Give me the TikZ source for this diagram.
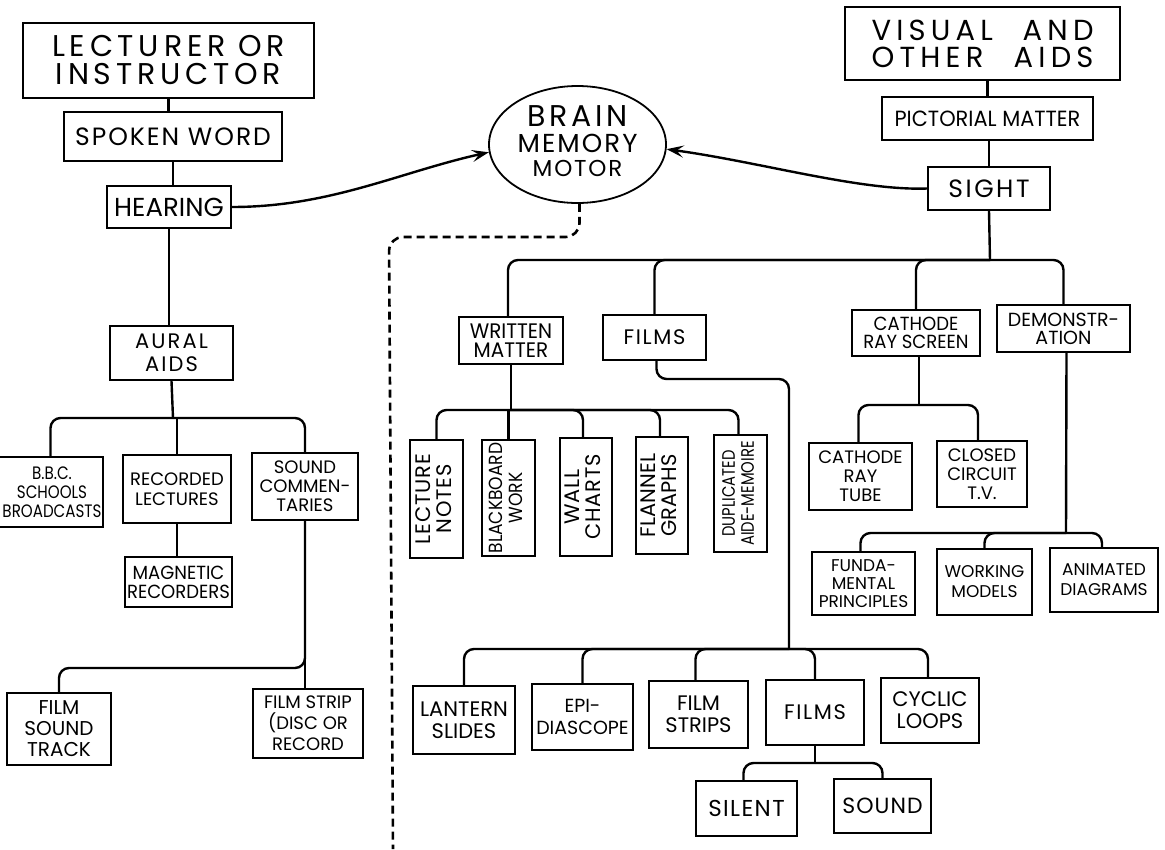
\documentclass[tikz,border=0pt]{standalone}
\usepackage{fontspec}
\setmainfont{Poppins}
\usepackage{graphicx}
\usetikzlibrary{shapes.geometric,arrows.meta}
\newcommand\fsz[2]{\fontsize{#1pt}{#2pt}\selectfont}
\newcommand\lsp[1]{\addfontfeature{LetterSpace=#1}}
\newcommand\cond[1]{\addfontfeature{FakeStretch=#1}}
\newcommand\vlines[1]{\rotatebox{90}{\begin{tabular}{@{}c@{}}#1\end{tabular}}}
\begin{document}
\begin{tikzpicture}[x=1pt,y=-1pt,
  box/.style={draw, line width=1.8pt, rectangle, inner sep=0pt, align=center},
  conn/.style={line width=2.4pt},
  rc/.style={rounded corners=10pt},
  arr/.style={line width=2.4pt, -{Stealth[length=17pt,width=12pt,inset=7pt]}},
  dashline/.style={line width=2.6pt, dash pattern=on 8pt off 5pt}
]
\useasboundingbox (0,0) rectangle (1165,849);

% left column
\node[box, minimum width=291pt, minimum height=75pt, font=\fsz{30}{28}\lsp{16}] (lect) at (168.5,60.5) {LECTURER OR\\INSTRUCTOR};
\node[box, minimum width=218pt, minimum height=49pt, font=\fsz{25}{26}\lsp{8}] (spoken) at (173,136.5) {SPOKEN WORD};
\node[box, minimum width=124pt, minimum height=42pt, font=\fsz{26}{26}] (hearing) at (169,207) {HEARING};
\node[box, minimum width=123pt, minimum height=54pt, font=\fsz{21}{23}\lsp{10}] (aural) at (171.5,353) {AURAL\\AIDS};
\node[box, minimum width=113pt, minimum height=70pt] (bbc) at (46.5,492) {};
\node[inner sep=0pt, align=center, font=\fsz{18}{19}\cond{0.84}] (bbct) at (52,492) {B.B.C.\\SCHOOLS\\BROADCASTS};
\node[box, minimum width=108pt, minimum height=68pt, font=\fsz{18}{20}] (rec) at (177,489) {RECORDED\\LECTURES};
\node[box, minimum width=107pt, minimum height=50pt, font=\fsz{19}{19}\cond{0.95}] (mag) at (178.5,582) {MAGNETIC\\RECORDERS};
\node[box, minimum width=106pt, minimum height=67pt, font=\fsz{18}{19}] (sound) at (305,486.5) {SOUND\\COMMEN-\\TARIES};
\node[box, minimum width=104pt, minimum height=72pt, font=\fsz{20}{21}] (fst) at (59,729) {FILM\\SOUND\\TRACK};
\node[box, minimum width=110pt, minimum height=69pt, font=\fsz{18}{21}] (fsr) at (308,723.5) {FILM STRIP\\(DISC OR\\RECORD};

% brain
\node[draw, ellipse, line width=1.8pt, minimum width=177pt, minimum height=117pt, inner sep=0pt] (brain) at (577.5,144.5)
  {\fsz{24}{24}\begin{tabular}{@{}c@{}}{\fsz{30}{30}\lsp{12}BRAIN}\\{\fsz{26}{26}\lsp{8}MEMORY}\\{\fsz{23}{23}\lsp{8}MOTOR}\end{tabular}};

% right top
\node[box, minimum width=275pt, minimum height=73pt, font=\fsz{29}{27}\lsp{18}] (vis) at (982.5,43.5)
  {\hbox to 222pt{VISUAL\hfill AND}\\\hbox to 222pt{OTHER\hfill AIDS}};
\node[box, minimum width=211pt, minimum height=43pt, font=\fsz{22}{22}\cond{0.95}] (pict) at (987.5,118.5) {PICTORIAL MATTER};
\node[box, minimum width=122pt, minimum height=43pt, font=\fsz{25}{26}\lsp{10}] (sight) at (989,188.5) {SIGHT};

% second level
\node[box, minimum width=104pt, minimum height=47pt, font=\fsz{21}{19}\cond{0.95}] (wm) at (511,340.5) {WRITTEN\\MATTER};
\node[box, minimum width=103pt, minimum height=45pt, font=\fsz{21}{22}\lsp{8}] (films1) at (654.5,337.5) {FILMS};
\node[box, minimum width=128pt, minimum height=46pt, font=\fsz{19}{18}\cond{0.95}] (crs) at (916,333) {CATHODE\\RAY SCREEN};
\node[box, minimum width=133pt, minimum height=47pt, font=\fsz{19}{18}] (demo) at (1063.5,328.5) {DEMONSTR-\\ATION};

% vertical boxes
\node[box, minimum width=53pt, minimum height=118pt, font=\fsz{21}{21}\lsp{4}] (ln) at (436.5,499) {\vlines{LECTURE\\NOTES}};
\node[box, minimum width=53pt, minimum height=116pt, font=\fsz{19}{20}\cond{0.9}] (bw) at (508.5,498) {\vlines{BLACKBOARD\\WORK}};
\node[box, minimum width=52pt, minimum height=118pt, font=\fsz{21}{21}\lsp{4}] (wc) at (586,497) {\vlines{WALL\\CHARTS}};
\node[box, minimum width=52pt, minimum height=117pt, font=\fsz{21}{21}] (fg) at (662,495.5) {\vlines{FLANNEL\\GRAPHS}};
\node[box, minimum width=53pt, minimum height=117pt, font=\fsz{18}{19}\cond{0.82}] (dup) at (740.5,493.5) {\vlines{DUPLICATED\\AIDE-MEMOIRE}};

% cathode / demonstration
\node[box, minimum width=103pt, minimum height=67pt, font=\fsz{18}{19}] (ct) at (860.5,476.5) {CATHODE\\RAY\\TUBE};
\node[box, minimum width=90pt, minimum height=66pt, font=\fsz{18}{19}] (cc) at (982,474) {CLOSED\\CIRCUIT\\T.V.};
\node[box, minimum width=103pt, minimum height=63pt, font=\fsz{17}{18}] (fp) at (863.5,583.5) {FUNDA-\\MENTAL\\PRINCIPLES};
\node[box, minimum width=95pt, minimum height=66pt, font=\fsz{17}{20}] (wmod) at (984.5,582) {WORKING\\MODELS};
\node[box, minimum width=108pt, minimum height=64pt, font=\fsz{17}{20}] (ad) at (1104,580) {ANIMATED\\DIAGRAMS};

% bottom films row
\node[box, minimum width=102pt, minimum height=68pt, font=\fsz{21}{22}] (ls) at (464,720) {LANTERN\\SLIDES};
\node[box, minimum width=101pt, minimum height=66pt, font=\fsz{19}{22}] (epi) at (582.5,717) {EPI-\\DIASCOPE};
\node[box, minimum width=99pt, minimum height=67pt, font=\fsz{21}{22}] (fs) at (698.5,714.5) {FILM\\STRIPS};
\node[box, minimum width=98pt, minimum height=65pt, font=\fsz{21}{22}\lsp{8}] (films2) at (815,712.5) {FILMS};
\node[box, minimum width=98pt, minimum height=65pt, font=\fsz{21}{22}] (cl) at (930,710.5) {CYCLIC\\LOOPS};
\node[box, minimum width=101pt, minimum height=55pt, font=\fsz{23}{24}\lsp{6}] (silent) at (746.5,808.5) {SILENT};
\node[box, minimum width=97pt, minimum height=54pt, font=\fsz{22}{24}\lsp{5}] (soundb) at (882.5,806) {SOUND};

% junctions
\coordinate (j1) at (173,418);
\coordinate (j2) at (307,668);
\coordinate (j3) at (990,260);
\coordinate (j4) at (510,410);
\coordinate (jf) at (789,379);
\coordinate (j5) at (789,649);
\coordinate (j6) at (815,763);
\coordinate (j7) at (919,405);
\coordinate (j8) at (1066,533);
\coordinate (dtop) at (389,237);
\coordinate (dend) at (393,849);

% left connectors
\draw[conn] (lect.south) -- (lect.south |- spoken.north);
\draw[conn] (spoken.south) -- (spoken.south |- hearing.north);
\draw[conn] (hearing.south) -- (hearing.south |- aural.north);
\draw[conn] (aural.south) -- (j1);
\draw[conn, rc] ([xshift=4pt]bbc.north) |- (j1);
\draw[conn, rc] (sound.north) |- (j1);
\draw[conn] (rec.north) -- (rec.north |- j1);
\draw[conn] (rec.south) -- (rec.south |- mag.north);
\draw[conn] (sound.south) -- (sound.south |- fsr.north);
\draw[conn, rc] (sound.south) |- (fst.north |- j2) -- (fst.north);

% arrows to brain
\draw[arr] (hearing.east) .. controls (330,207) and (400,172) .. (brain.185);
\draw[arr] (sight.west) .. controls (860,191) and (760,162) .. (brain.-3);
\draw[dashline, rounded corners=14pt] ([xshift=2pt]brain.south) |- (dtop) -- (dend);

% right connectors
\draw[conn] (vis.south -| pict.north) -- (pict.north);
\draw[conn] (pict.south -| sight.north) -- (sight.north);
\draw[conn] (sight.south) -- (j3);
\draw[conn, rc] ([xshift=-3pt]wm.north) |- (j3);
\draw[conn, rc] (films1.north) |- (j3);
\draw[conn, rc] (crs.north) |- (j3);
\draw[conn, rc] (demo.north) |- (j3);

\draw[conn] (wm.south) -- (wm.south |- j4);
\draw[conn, rc] (ln.north) |- (j4);
\draw[conn] (bw.north) -- (bw.north |- j4);
\draw[conn, rc] ([xshift=-3pt]wc.north) |- (j4);
\draw[conn, rc] ([xshift=-2pt]fg.north) |- (j4);
\draw[conn, rc] ([xshift=-2pt]dup.north) |- (j4);

\draw[conn, rc] ([xshift=2pt]films1.south) |- (jf) -- (j5);
\draw[conn, rc] (ls.north) |- (j5);
\draw[conn, rc] (epi.north) |- (j5);
\draw[conn, rc] ([xshift=-3pt]fs.north) |- (j5);
\draw[conn, rc] (films2.north) |- (j5);
\draw[conn, rc] ([xshift=-2pt]cl.north) |- (j5);
\draw[conn] (films2.south) -- (j6);
\draw[conn, rc] ([xshift=-3pt]silent.north) |- (j6);
\draw[conn, rc] (soundb.north) |- (j6);

\draw[conn] ([xshift=3pt]crs.south) -- (j7);
\draw[conn, rc] ([xshift=-2pt]ct.north) |- (j7);
\draw[conn, rc] ([xshift=-4pt]cc.north) |- (j7);

\draw[conn] ([xshift=3pt]demo.south) -- (j8);
\draw[conn, rc] ([xshift=-3pt]fp.north) |- (j8);
\draw[conn, rc] (wmod.north) |- (j8);
\draw[conn, rc] ([xshift=-2pt]ad.north) |- (j8);
\end{tikzpicture}
\end{document}
